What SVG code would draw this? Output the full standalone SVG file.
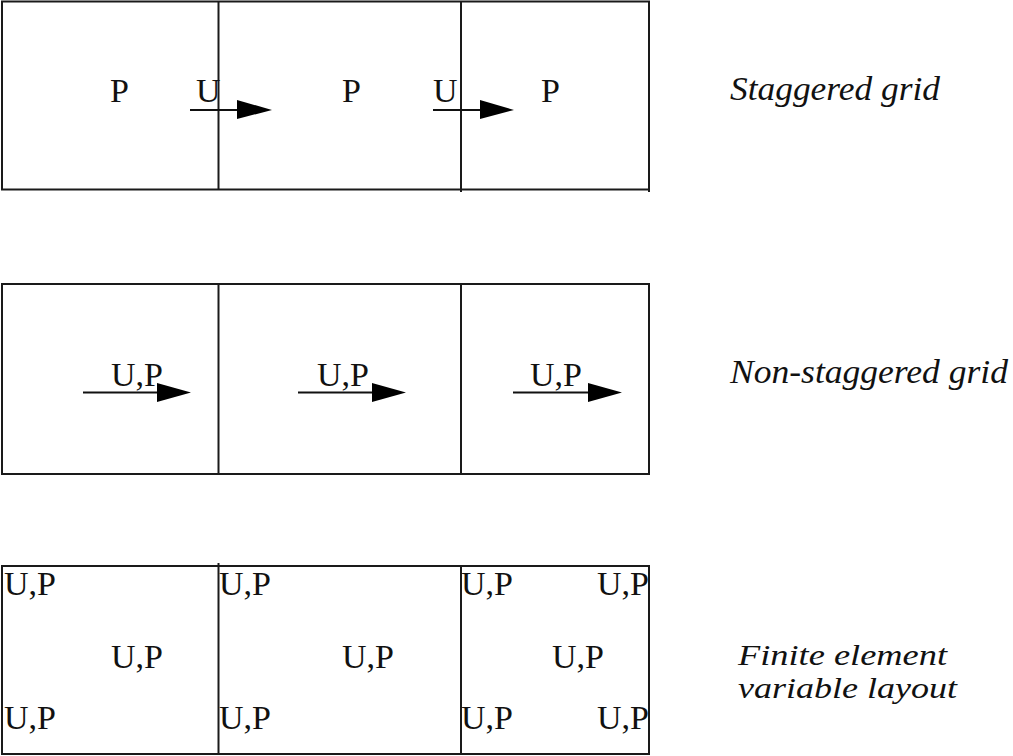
<svg xmlns="http://www.w3.org/2000/svg" width="1013" height="756" viewBox="0 0 1013 756">
<style>
.grid{fill:none;stroke:#1a1a1a;stroke-width:2}
.v{font-family:"Liberation Serif","Times New Roman",serif;font-size:34px;fill:#111}
.lbl{font-family:"Liberation Serif","Times New Roman",serif;font-style:italic;font-size:33px;fill:#111}
.lbl2{font-family:"Liberation Serif","Times New Roman",serif;font-style:italic;font-size:29px;fill:#111}
.arr{stroke:#111;stroke-width:2;fill:none}
.head{fill:#000}
</style>
<rect width="1013" height="756" fill="#fff"/>
<g id="staggered">
<rect class="grid" x="2" y="1.5" width="647" height="188"/>
<line class="grid" x1="218.5" y1="1.5" x2="218.5" y2="190"/>
<line class="grid" x1="461" y1="1.5" x2="461" y2="192"/>
<line class="grid" x1="649" y1="1.5" x2="649" y2="192"/>
<text class="v" x="110" y="102">P</text>
<text class="v" x="342" y="102">P</text>
<text class="v" x="541" y="102">P</text>
<text class="v" x="196" y="102">U</text>
<text class="v" x="433" y="102">U</text>
<text class="lbl" x="730" y="100" textLength="210" lengthAdjust="spacingAndGlyphs">Staggered grid</text>
</g>
<g id="nonstaggered">
<rect class="grid" x="2" y="284" width="647" height="190"/>
<line class="grid" x1="218.5" y1="284" x2="218.5" y2="474"/>
<line class="grid" x1="461" y1="284" x2="461" y2="474"/>
<text class="v" x="111" y="386">U,P</text>
<text class="v" x="317" y="386">U,P</text>
<text class="v" x="530" y="386">U,P</text>
<text class="lbl" x="730" y="383" textLength="278" lengthAdjust="spacingAndGlyphs">Non-staggered grid</text>
</g>
<g id="finite">
<rect class="grid" x="2" y="566" width="647" height="188"/>
<line class="grid" x1="218.5" y1="563" x2="218.5" y2="754"/>
<line class="grid" x1="461" y1="566" x2="461" y2="754"/>
<text class="v" x="4" y="595">U,P</text>
<text class="v" x="111" y="668">U,P</text>
<text class="v" x="4" y="729">U,P</text>
<text class="v" x="219" y="595">U,P</text>
<text class="v" x="342" y="668">U,P</text>
<text class="v" x="219" y="729">U,P</text>
<text class="v" x="461" y="595">U,P</text>
<text class="v" x="597" y="595">U,P</text>
<text class="v" x="552" y="668">U,P</text>
<text class="v" x="461" y="729">U,P</text>
<text class="v" x="597" y="729">U,P</text>
<text class="lbl2" x="738" y="665" textLength="209" lengthAdjust="spacingAndGlyphs">Finite element</text>
<text class="lbl2" x="738" y="698" textLength="219" lengthAdjust="spacingAndGlyphs">variable layout</text>
</g>
<g id="connectors">
<line class="arr" x1="190" y1="110" x2="240" y2="110"/>
<polygon class="head" points="237,100 272,110 237,119"/>
<line class="arr" x1="433" y1="110" x2="483" y2="110"/>
<polygon class="head" points="480,100 514,110 480,119"/>
<line class="arr" x1="83" y1="392.5" x2="160" y2="392.5"/>
<polygon class="head" points="157,383 191,392.5 157,402"/>
<line class="arr" x1="298" y1="392.5" x2="375" y2="392.5"/>
<polygon class="head" points="372,383 406,392.5 372,402"/>
<line class="arr" x1="513" y1="392.5" x2="591" y2="392.5"/>
<polygon class="head" points="588,383 622,392.5 588,402"/>
</g>
</svg>
